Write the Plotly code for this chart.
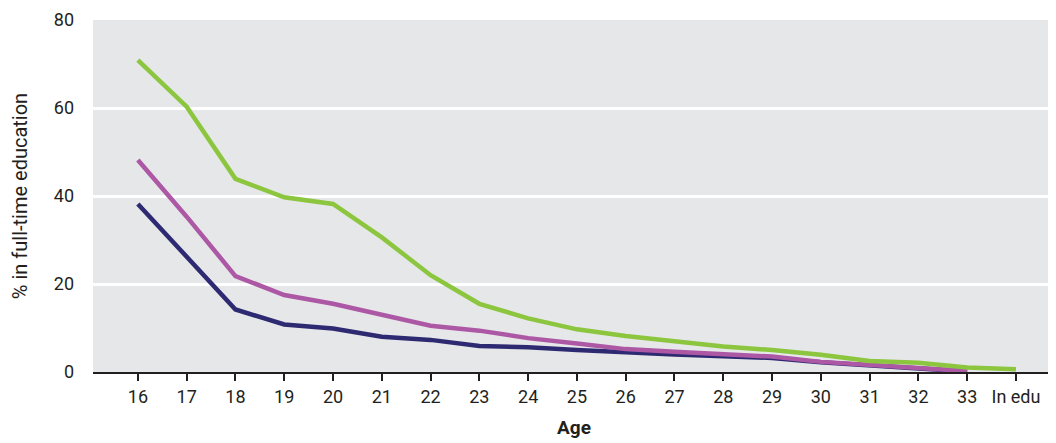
import plotly.graph_objects as go

ages = ["16", "17", "18", "19", "20", "21", "22", "23", "24", "25", "26", "27",
        "28", "29", "30", "31", "32", "33", "In edu"]
green = [70.9, 60.3, 43.9, 39.7, 38.2, 30.6, 22.0, 15.5, 12.2, 9.7, 8.2, 7.0,
         5.8, 5.0, 3.9, 2.5, 2.1, 1.0, 0.6]
magenta = [48.2, 35.3, 21.8, 17.5, 15.5, 13.1, 10.5, 9.4, 7.7, 6.5, 5.2, 4.6,
           4.1, 3.5, 2.3, 1.6, 0.8, 0.2, None]
navy = [38.2, 26.2, 14.2, 10.8, 9.9, 8.0, 7.3, 5.9, 5.6, 5.0, 4.4, 4.0,
        3.6, 3.2, 2.2, 1.5, 0.7, 0.1, None]
y_ticks = [0, 20, 40, 60, 80]

xs = list(range(len(ages)))
fig = go.Figure()
for vals, col in [(navy, "#2e2a72"), (magenta, "#ad58a5"), (green, "#8cc63f")]:
    fig.add_trace(go.Scatter(x=xs, y=vals, mode="lines",
                             line=dict(color=col, width=4.5),
                             showlegend=False, hoverinfo="skip"))

font_family = "Roboto, 'DejaVu Sans', sans-serif"
fig.update_layout(
    width=1048, height=435,
    margin=dict(l=85, r=1, t=12, b=71),
    paper_bgcolor="white", plot_bgcolor="#e6e7e9",
    font=dict(family=font_family, size=18, color="#231f20"),
    xaxis=dict(
        tickmode="array", tickvals=xs, ticktext=ages,
        range=[-0.92, 18.8], automargin=False,
        showgrid=False, zeroline=False,
        showline=True, linecolor="#231f20", linewidth=2,
        ticks="outside", ticklen=7, tickwidth=2, tickcolor="#231f20",
        tickfont=dict(size=18),
        title=dict(text="<b>Age</b>", font=dict(size=19), standoff=15),
    ),
    yaxis=dict(
        tickmode="array", tickvals=y_ticks,
        range=[0, 80], automargin=False,
        showgrid=True, gridcolor="white", gridwidth=2.5,
        zeroline=False, showline=False,
        ticks="", ticklabelstandoff=18,
        tickfont=dict(size=18),
        title=dict(text="% in full-time education", font=dict(size=20), standoff=25),
    ),
)
fig.write_html("out.html")
